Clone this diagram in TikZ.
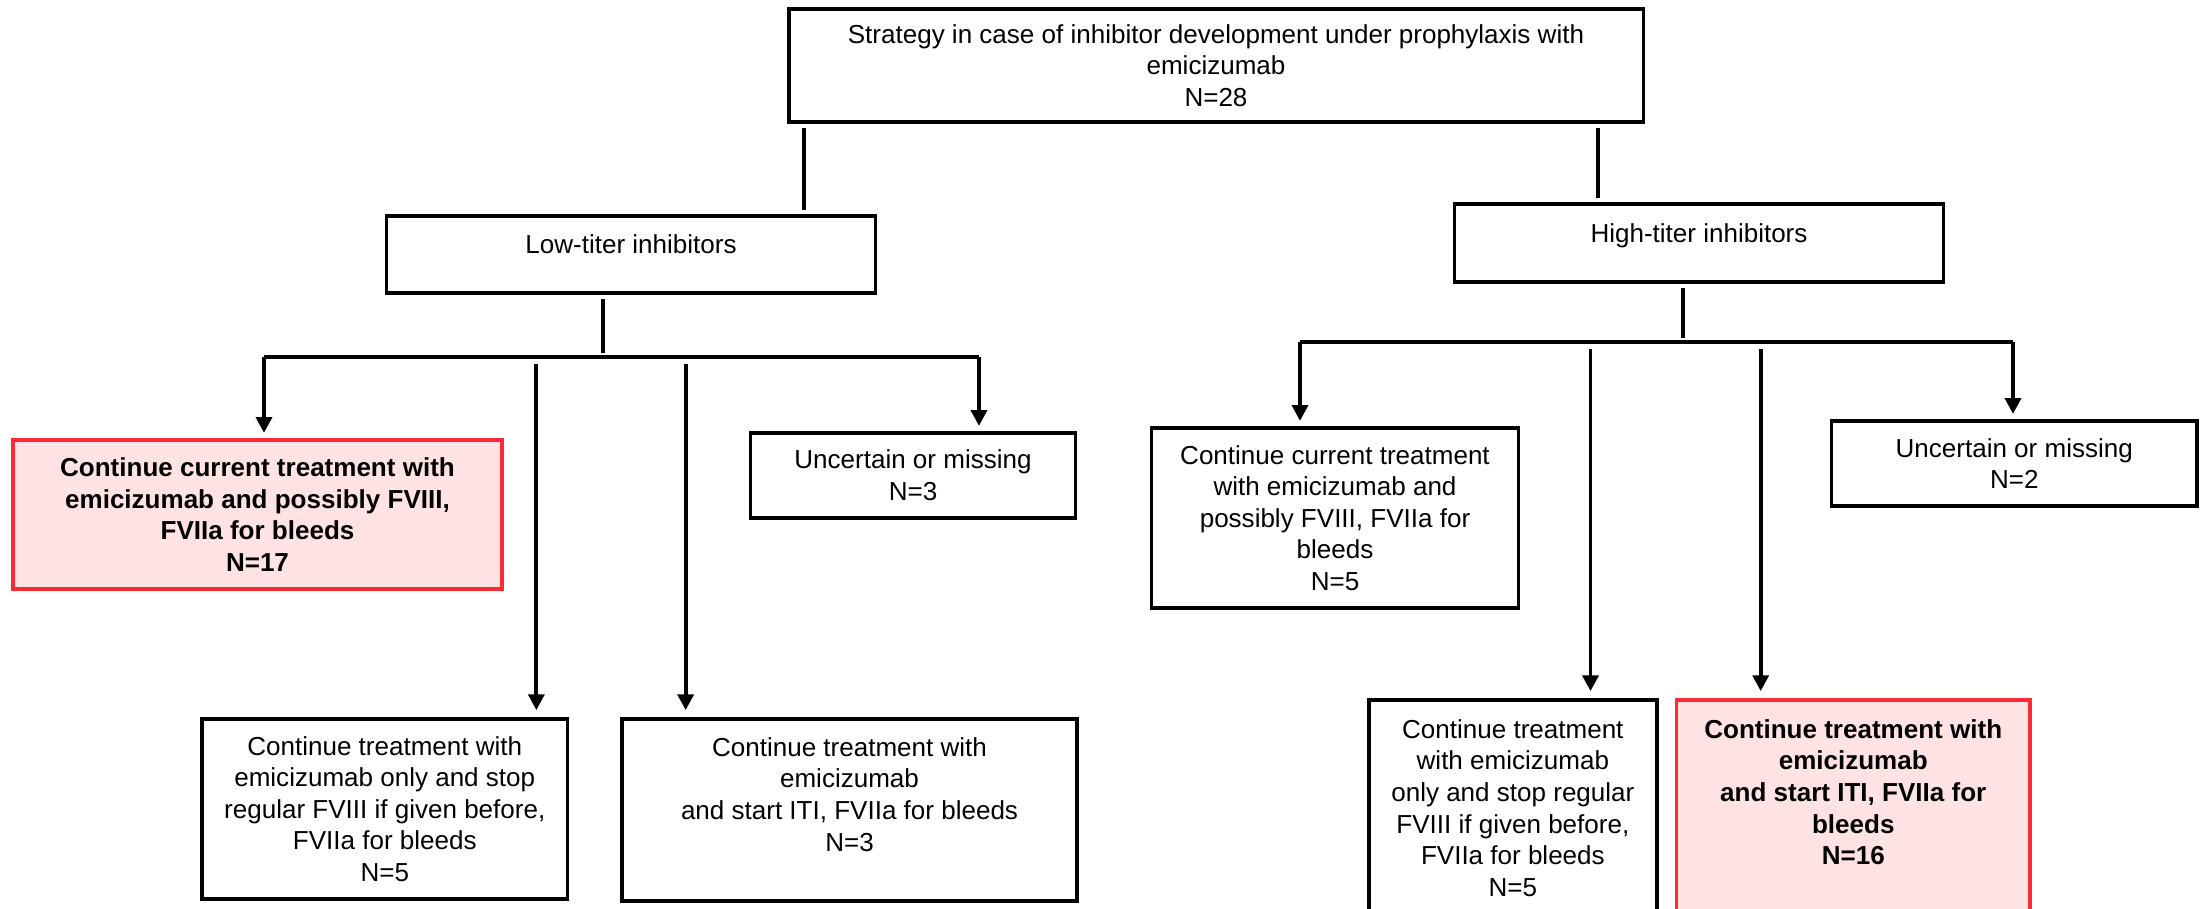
\documentclass[tikz,border=0pt]{standalone}
\usepackage{fontspec}
\setmainfont{Liberation Sans}
\usetikzlibrary{arrows.meta, positioning}
\definecolor{pickred}{RGB}{255,42,51}
\definecolor{pickpink}{RGB}{255,227,228}

\begin{document}
\begin{tikzpicture}[x=0.01cm, y=-0.01cm, >={Triangle[length=4.5pt, width=4.5pt]}]
        % Style definitions
        \tikzstyle{box} = [draw, line width=1pt, rectangle, align=center, inner sep=0pt, font=\fontsize{7.4}{9}\selectfont]
        \tikzstyle{pick} = [box, draw=pickred, fill=pickpink, font=\fontsize{7.4}{9}\selectfont\bfseries]
        \tikzstyle{oneline} = [text height=5.4pt, text depth=5.8pt]
        \tikzstyle{link} = [line width=1.1pt, shorten <=1.2pt, shorten >=1.2pt]
        \tikzstyle{bar} = [line width=1.4pt]
        \tikzstyle{branch} = [->, line width=1.1pt, shorten >=1.5pt]
        \tikzstyle{drop} = [branch, shorten <=2pt, shorten >=2pt]

        \useasboundingbox (0,0) rectangle (2205,909);
        \clip (0,0) rectangle (2205,909);

        % Nodes
        \node [box, minimum width=8.54cm, minimum height=1.13cm] (top) at (1216,65.5) {Strategy in case of inhibitor development under prophylaxis with\\ emicizumab\\ N=28};
        \node [box, oneline, minimum width=4.885cm, minimum height=0.77cm] (low) at (631,254.5) {Low-titer inhibitors};
        \node [box, oneline, minimum width=4.89cm, minimum height=0.78cm] (high) at (1699,243) {High-titer inhibitors};

        \node [pick, minimum width=4.89cm, minimum height=1.49cm] (lowcur) at (257.5,514.5) {Continue current treatment with\\ emicizumab and possibly FVIII,\\ FVIIa for bleeds\\ N=17};
        \node [box, minimum width=3.25cm, minimum height=0.85cm] (lowunc) at (913,475.5) {Uncertain or missing\\ N=3};
        \node [box, minimum width=3.655cm, minimum height=1.8cm] (lowonly) at (384.75,809) {Continue treatment with\\ emicizumab only and stop\\ regular FVIII if given before,\\ FVIIa for bleeds\\ N=5};
        \node [box, minimum width=4.55cm, minimum height=1.82cm] (lowiti) at (849.5,810) {Continue treatment with\\ emicizumab\\ and start ITI, FVIIa for bleeds\\ N=3\\ \mbox{}};

        \node [box, minimum width=3.67cm, minimum height=1.8cm] (highcur) at (1335,518) {Continue current treatment\\ with emicizumab and\\ possibly FVIII, FVIIa for\\ bleeds\\ N=5};
        \node [box, minimum width=3.655cm, minimum height=0.85cm] (highunc) at (2014.25,463.5) {Uncertain or missing\\ N=2};
        \node [box, minimum width=2.877cm, minimum height=2.16cm] (highonly) at (1512.85,808) {Continue treatment\\ with emicizumab\\ only and stop regular\\ FVIII if given before,\\ FVIIa for bleeds\\ N=5};
        \node [pick, minimum width=3.535cm, minimum height=2.16cm] (highiti) at (1853.25,808) {Continue treatment with\\ emicizumab\\ and start ITI, FVIIa for\\ bleeds\\ N=16\\ \mbox{}};

        % Branch points
        \coordinate (lowL) at (264,357);
        \coordinate (lowR) at (979,357);
        \coordinate (highL) at (1300,342);
        \coordinate (highR) at (2013,342);

        % Arrows
        \draw [link] ([xshift=0.17cm]top.south west) -- ([xshift=0.17cm]top.south west |- low.north);
        \draw [link] ([xshift=-0.47cm]top.south east) -- ([xshift=-0.47cm]top.south east |- high.north);
        \draw [link] ([xshift=-0.28cm]low.south) -- ([xshift=-0.28cm]low.south |- lowL);
        \draw [link] ([xshift=-0.16cm]high.south) -- ([xshift=-0.16cm]high.south |- highL);

        \draw [bar] (lowL) -- (lowR);
        \draw [branch] (lowL) -- (lowL |- lowcur.north);
        \draw [branch] (lowR) -- (lowR |- lowunc.north);
        \draw [drop] ([xshift=-0.33cm]lowonly.north east |- lowL) -- ([xshift=-0.33cm]lowonly.north east);
        \draw [drop] ([xshift=0.655cm]lowiti.north west |- lowL) -- ([xshift=0.655cm]lowiti.north west);

        \draw [bar] (highL) -- (highR);
        \draw [branch] (highL) -- (highL |- highcur.north);
        \draw [branch] (highR) -- (highR |- highunc.north);
        \draw [drop] ([xshift=-0.68cm]highonly.north east |- highL) -- ([xshift=-0.68cm]highonly.north east);
        \draw [drop] ([xshift=0.86cm]highiti.north west |- highL) -- ([xshift=0.86cm]highiti.north west);
\end{tikzpicture}
\end{document}
